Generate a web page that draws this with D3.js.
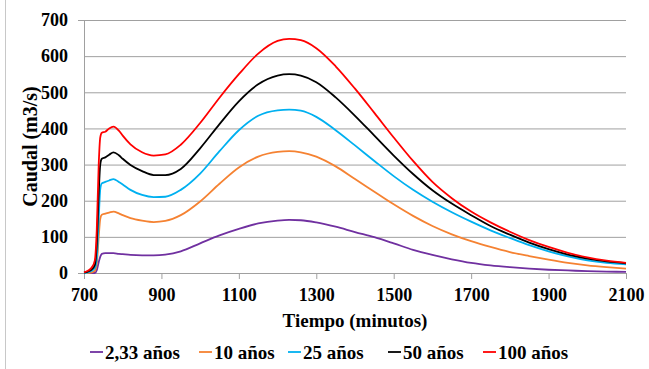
<!DOCTYPE html>
<html>
<head>
<meta charset="utf-8">
<script src="https://cdn.jsdelivr.net/npm/d3@7"></script>
<style>
  body { margin: 0; background: #fff; }
</style>
</head>
<body>
<svg id="chart" width="649" height="369"></svg>
<script>
// time steps (minutes)
const tiempo = [700, 710, 720, 728, 733, 738, 742, 746, 755, 765, 776, 790, 800, 820, 850, 880, 910, 950,
  1000, 1050, 1100, 1150, 1200, 1230, 1260, 1300, 1350, 1400, 1450, 1500, 1550, 1600, 1650, 1700,
  1750, 1800, 1850, 1900, 1950, 2000, 2050, 2100];

// caudal (m3/s) per return period
const q233 = [0, 0, 0, 0, 8, 30, 45, 53, 55, 55, 55, 53, 52, 50, 49, 49, 51, 60,
  82, 104, 122, 137, 145, 147, 146, 140, 128, 113, 99, 82, 64, 50, 38, 28,
  21, 16, 12, 9, 7, 5, 4, 3];
const q10 = [0, 0, 2, 6, 25, 100, 150, 161, 164, 167, 170, 165, 160, 152, 145, 141, 144, 160,
  198, 247, 292, 322, 335, 337, 334, 322, 295, 260, 225, 190, 158, 130, 107, 88,
  72, 58, 47, 37, 28, 21, 16, 12];
const q25 = [0, 2, 6, 14, 40, 150, 232, 248, 252, 256, 260, 252, 245, 230, 216, 210, 211, 230,
  275, 337, 395, 435, 450, 452, 449, 432, 395, 353, 310, 268, 230, 197, 168, 142,
  118, 97, 77, 60, 46, 35, 28, 24];
const q50 = [1, 4, 10, 22, 80, 220, 300, 316, 320, 327, 334, 326, 316, 299, 282, 271, 271, 288,
  345, 412, 475, 522, 546, 550, 546, 528, 486, 435, 380, 325, 274, 229, 192, 160,
  130, 106, 84, 66, 51, 40, 32, 27];
const q100 = [2, 6, 15, 35, 120, 300, 375, 388, 391, 400, 405, 394, 380, 356, 334, 325, 328, 355,
  415, 485, 550, 607, 642, 648, 644, 622, 572, 510, 443, 375, 310, 252, 207, 170,
  140, 114, 91, 72, 56, 43, 34, 28];

const seriesNames = ["2,33 años", "10 años", "25 años", "50 años", "100 años"];
const seriesValues = [q233, q10, q25, q50, q100];
const seriesColors = ["#7030a0", "#f58232", "#00b0f0", "#000000", "#ff0000"];

const xTicks = [700, 900, 1100, 1300, 1500, 1700, 1900, 2100];
const yTicks = [0, 100, 200, 300, 400, 500, 600, 700];

const fontFamily = "'Times New Roman', 'Liberation Serif', 'DejaVu Serif', serif";

const svg = d3.select("#chart");
const plotLeft = 84, plotRight = 626, plotTop = 20, plotBottom = 273;

const x = d3.scaleLinear().domain([700, 2100]).range([plotLeft, plotRight]);
const y = d3.scaleLinear().domain([0, 700]).range([plotBottom, plotTop]);

// thin border on the left of the picture
svg.append("line")
    .attr("x1", 5.5).attr("x2", 5.5)
    .attr("y1", 0).attr("y2", 369)
    .attr("stroke", "#c8c8c8");

// gridlines + y axis
let yAxis = svg.append("g")
    .attr("transform", `translate(${plotLeft},0)`)
    .call(d3.axisLeft(y).tickValues(yTicks).tickSize(6).tickPadding(10))
    .call(g => g.select(".domain").attr("stroke", "#a0a0a0"));

yAxis.selectAll(".tick line")
    .attr("stroke", "#a0a0a0")
    .attr("x2", plotRight - plotLeft);

// x axis
let xAxis = svg.append("g")
    .attr("transform", `translate(0,${plotBottom})`)
    .call(d3.axisBottom(x).tickValues(xTicks).tickFormat(d3.format("d")).tickSize(6).tickPadding(9))
    .call(g => g.select(".domain").attr("stroke", "#a0a0a0"));

xAxis.selectAll(".tick line").attr("stroke", "#a0a0a0");

svg.selectAll(".tick text")
    .attr("fill", "#000")
    .style("font-family", fontFamily)
    .style("font-weight", "bold")
    .style("font-size", "18px");

// series lines
const line = d3.line()
    .x((d, i) => x(tiempo[i]))
    .y(d => y(d))
    .curve(d3.curveMonotoneX);

svg.append("g")
  .selectAll("path")
  .data(seriesValues)
  .join("path")
    .attr("fill", "none")
    .attr("stroke", (d, i) => seriesColors[i])
    .attr("stroke-width", 1.8)
    .attr("d", line);

// axis titles
svg.append("text")
    .attr("x", (plotLeft + plotRight) / 2)
    .attr("y", 327)
    .attr("text-anchor", "middle")
    .style("font-family", fontFamily)
    .style("font-weight", "bold")
    .style("font-size", "19px")
    .text("Tiempo (minutos)");

svg.append("text")
    .attr("transform", `translate(37,${(plotTop + plotBottom) / 2}) rotate(-90)`)
    .attr("text-anchor", "middle")
    .style("font-family", fontFamily)
    .style("font-weight", "bold")
    .style("font-size", "20px")
    .text("Caudal (m3/s)");

// legend
const legendX = [90, 199, 288, 388, 483];

let legend = svg.append("g")
  .selectAll("g")
  .data(seriesNames)
  .join("g")
    .attr("transform", (d, i) => `translate(${legendX[i]},352)`);

legend.append("line")
    .attr("x1", 0).attr("x2", 13)
    .attr("stroke", (d, i) => seriesColors[i])
    .attr("stroke-width", 1.8);

legend.append("text")
    .attr("x", 15)
    .attr("y", 6.5)
    .style("font-family", fontFamily)
    .style("font-weight", "bold")
    .style("font-size", "19px")
    .text(d => d);
</script>
</body>
</html>
